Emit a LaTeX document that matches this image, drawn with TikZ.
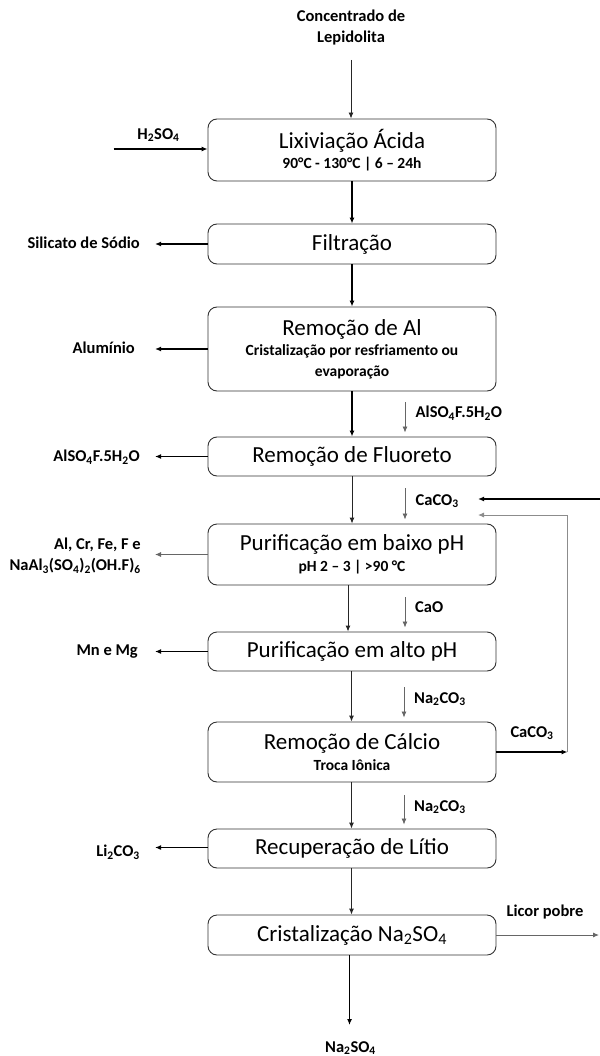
\documentclass[tikz,border=0pt]{standalone}
\usepackage{fontspec}
\setmainfont{Carlito}
\usetikzlibrary{arrows.meta,calc}

% Shared looks of the flowsheet
\tikzset{
  stage/.style={draw=black!80, line width=0.9pt, rounded corners=9pt,
    minimum width=288pt, inner sep=0pt, align=center, text=black,
    font=\fontsize{23}{20.5}\selectfont},
  lab/.style={font=\bfseries\fontsize{16.5}{21}\selectfont, inner sep=0pt},
  tip/.style={-{Latex[length=6pt,width=5pt]}},
  heavy/.style={tip, line width=1.6pt, draw=black},
  light/.style={tip, line width=0.9pt, draw=black!85},
  feed/.style={tip, line width=0.8pt, draw=black!60, shorten >=4pt},
  loop/.style={line width=0.9pt, draw=black!45},
}
\newcommand\stdetail[1]{{\bfseries\fontsize{15.5}{20.5}\selectfont #1}}

\begin{document}
\begin{tikzpicture}[x=1pt,y=-1pt]
\useasboundingbox (0,0) rectangle (599,1056);

% process stages
\node[stage, minimum height=62pt] (b1) at (352,150) {Lixiviação Ácida\\\stdetail{90°C - 130°C | 6 – 24h}};
\node[stage, minimum height=40pt] (b2) at (352,244) {Filtração};
\node[stage, minimum height=84pt] (b3) at (352,349) {Remoção de Al\\\stdetail{Cristalização por resfriamento ou}\\\stdetail{evaporação}};
\node[stage, minimum height=39pt] (b4) at (352,456.5) {Remoção de Fluoreto};
\node[stage, minimum height=61pt] (b5) at (352,554.5) {Purificação em baixo pH\\\stdetail{pH 2 – 3 | >90 °C}};
\node[stage, minimum height=39pt] (b6) at (352,651.5) {Purificação em alto pH};
\node[stage, minimum height=60pt] (b7) at (352,752) {Remoção de Cálcio\\\stdetail{Troca Iônica}};
\node[stage, minimum height=39pt] (b8) at (352,848.5) {Recuperação de Lítio};
\node[stage, minimum height=40pt] (b9) at (352,935) {Cristalização Na\textsubscript{2}SO\textsubscript{4}};

% feed and product labels
\node[lab, align=center] (src) at (351,28) {Concentrado de\\Lepidolita};
\node[lab] (acid) at (158.5,135) {H\textsubscript{2}SO\textsubscript{4}};
\node[lab, anchor=east] (silic) at (140,243) {Silicato de Sódio};
\node[lab, anchor=east] (alum) at (135,348) {Alumínio};
\node[lab, anchor=east] (alfo) at (140,457) {AlSO\textsubscript{4}F.5H\textsubscript{2}O};
\node[lab, anchor=east, align=right] (imp) at (141,556) {Al, Cr, Fe, F e\\NaAl\textsubscript{3}(SO\textsubscript{4})\textsubscript{2}(OH.F)\textsubscript{6}};
\node[lab, anchor=east] (mnmg) at (138,652) {Mn e Mg};
\node[lab, anchor=east] (lico) at (140,852) {Li\textsubscript{2}CO\textsubscript{3}};
\node[lab, anchor=west] (fAl) at (415.5,413) {AlSO\textsubscript{4}F.5H\textsubscript{2}O};
\node[lab, anchor=west] (fCa) at (415.5,501) {CaCO\textsubscript{3}};
\node[lab, anchor=west] (fCaO) at (415,607) {CaO};
\node[lab, anchor=west] (fNa1) at (414,699) {Na\textsubscript{2}CO\textsubscript{3}};
\node[lab, anchor=west] (fNa2) at (414,807) {Na\textsubscript{2}CO\textsubscript{3}};
\node[lab] (caout) at (532,733) {CaCO\textsubscript{3}};
\node[lab] (licor) at (545,912) {Licor pobre};
\node[lab] (sulf) at (350.5,1048) {Na\textsubscript{2}SO\textsubscript{4}};

% free ends of the streams
\coordinate (srcend) at (351,60);
\coordinate (acidin) at (113.5,149);
\coordinate (outL) at (155,0);
\coordinate (sAl) at (405,402);
\coordinate (sCa) at (405,488);
\coordinate (sCaO) at (405,597);
\coordinate (sNa1) at (404,687);
\coordinate (sNa2) at (404,795);
\coordinate (recin) at (600,499);
\coordinate (recA) at (478,499);
\coordinate (recB) at (478,515);
\coordinate (loopx) at (567.5,0);
\coordinate (rightx) at (599,0);
\coordinate (sulfend) at (349.5,1025);

% main line
\draw[light] (srcend) -- (srcend |- b1.north);
\draw[heavy] (b1.south) -- (b2.north);
\draw[heavy] (b2.south) -- (b3.north);
\draw[heavy] (b3.south) -- (b4.north);
\draw[light] (b4.south) -- (b5.north);
\draw[light] ([xshift=-4pt]b5.south) -- ([xshift=-4pt]b6.north);
\draw[light] ([xshift=-0.5pt]b6.south) -- ([xshift=-0.5pt]b7.north);
\draw[light] ([xshift=-0.5pt]b7.south) -- ([xshift=-0.5pt]b8.north);
\draw[light] ([xshift=-0.5pt]b8.south) -- ([xshift=-0.5pt]b9.north);
\draw[heavy] (sulfend |- b9.south) -- (sulfend);

% reagents
\draw[heavy] (acidin) -- (acidin -| b1.west);
\draw[feed] (sAl) -- (sAl |- b4.north);
\draw[feed] (sCa) -- (sCa |- b5.north);
\draw[feed] (sCaO) -- (sCaO |- b6.north);
\draw[feed] (sNa1) -- (sNa1 |- b7.north);
\draw[feed] (sNa2) -- (sNa2 |- b8.north);

% by-products
\draw[heavy] (b2.west) -- (b2.west -| outL);
\draw[heavy] (b3.west) -- (b3.west -| outL);
\draw[heavy] (b4.west) -- (b4.west -| outL);
\draw[light, draw=black!60] (b5.west) -- (b5.west -| outL);
\draw[heavy] (b6.west) -- (b6.west -| outL);
\draw[heavy] ([yshift=1pt]b8.west) -- ([yshift=1pt]b8.west -| outL);
\draw[light, draw=black!60] (b9.east) -- (b9.east -| rightx);

% calcium carbonate recycle
\draw[heavy] (recin) -- (recA);
\draw[heavy] (b7.east) -- (b7.east -| loopx);
\draw[loop] (b7.east -| loopx) -- (loopx |- recB);
\draw[loop, tip] (loopx |- recB) -- (recB);
\end{tikzpicture}
\end{document}
